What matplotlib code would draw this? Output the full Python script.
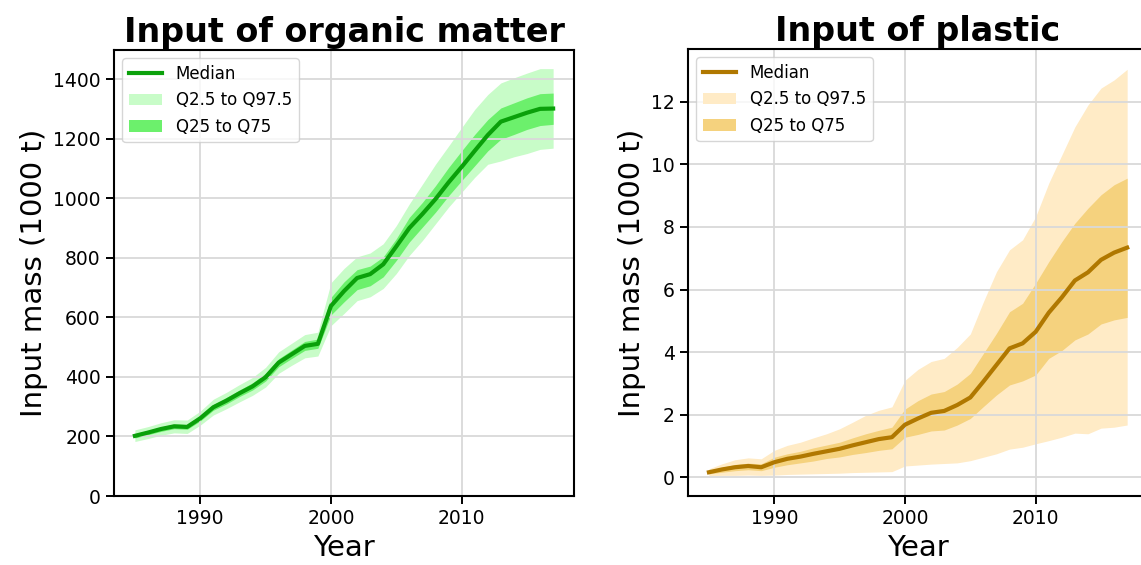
import matplotlib.pyplot as plt
from matplotlib.ticker import MultipleLocator

# Data
years = list(range(1985, 2018))

organic_median = [202, 213, 225, 234, 232, 261, 298, 320, 345, 368, 399, 448, 476, 504, 511,
                  638, 688, 732, 745, 778, 838, 900, 947, 997, 1053, 1105, 1159, 1212, 1257,
                  1272, 1287, 1300, 1301]
organic_q975 = [222, 233, 246, 256, 255, 285, 325, 348, 374, 398, 432, 484, 513, 542, 550,
                716, 764, 803, 816, 847, 908, 981, 1047, 1114, 1175, 1237, 1298, 1348, 1387,
                1404, 1420, 1435, 1435]
organic_q025 = [183, 193, 204, 212, 210, 238, 272, 293, 316, 338, 366, 412, 439, 464, 470,
                572, 613, 656, 669, 697, 747, 808, 858, 914, 970, 1020, 1070, 1114, 1125,
                1139, 1150, 1164, 1168]
organic_q75 = [209, 220, 232, 242, 240, 270, 308, 331, 356, 380, 412, 461, 490, 519, 527,
               667, 719, 760, 772, 803, 864, 936, 986, 1042, 1103, 1159, 1214, 1264, 1303,
               1320, 1337, 1351, 1353]
organic_q25 = [195, 206, 217, 226, 224, 252, 288, 309, 334, 356, 386, 434, 462, 489, 496,
               608, 652, 693, 706, 736, 791, 853, 903, 953, 1008, 1059, 1109, 1159, 1198,
               1214, 1231, 1244, 1248]

plastic_median = [0.16, 0.25, 0.32, 0.36, 0.32, 0.48, 0.59, 0.66, 0.75, 0.83, 0.91, 1.02, 1.12,
                  1.22, 1.28, 1.68, 1.88, 2.06, 2.12, 2.31, 2.55, 3.06, 3.59, 4.12, 4.28, 4.65,
                  5.26, 5.75, 6.29, 6.55, 6.95, 7.18, 7.34]
plastic_q975 = [0.27, 0.43, 0.56, 0.62, 0.59, 0.86, 1.02, 1.12, 1.26, 1.39, 1.55, 1.76, 1.98,
                2.14, 2.25, 3.10, 3.45, 3.70, 3.80, 4.15, 4.58, 5.61, 6.57, 7.27, 7.59, 8.33,
                9.40, 10.30, 11.20, 11.90, 12.44, 12.70, 13.04]
plastic_q025 = [0.05, 0.06, 0.06, 0.07, 0.06, 0.07, 0.09, 0.10, 0.11, 0.12, 0.13, 0.15, 0.16,
                0.17, 0.18, 0.36, 0.39, 0.42, 0.44, 0.46, 0.53, 0.64, 0.75, 0.90, 0.96, 1.07,
                1.17, 1.28, 1.41, 1.39, 1.57, 1.60, 1.67]
plastic_q75 = [0.21, 0.32, 0.41, 0.45, 0.43, 0.64, 0.75, 0.83, 0.94, 1.03, 1.12, 1.26, 1.39,
               1.50, 1.60, 2.18, 2.45, 2.66, 2.74, 2.98, 3.32, 3.96, 4.60, 5.29, 5.56, 6.20,
               6.89, 7.53, 8.12, 8.60, 9.03, 9.35, 9.56]
plastic_q25 = [0.11, 0.16, 0.21, 0.24, 0.21, 0.32, 0.40, 0.46, 0.52, 0.60, 0.65, 0.73, 0.79,
               0.86, 0.91, 1.28, 1.37, 1.48, 1.51, 1.67, 1.88, 2.26, 2.63, 2.95, 3.08, 3.27,
               3.80, 4.05, 4.39, 4.58, 4.90, 5.03, 5.11]

fig = plt.figure(figsize=(11.41, 5.65), dpi=100)
ax1 = fig.add_axes([0.0999, 0.1221, 0.4032, 0.7894])
ax2 = fig.add_axes([0.603, 0.1221, 0.4032, 0.7912])


def draw_panel(ax, title, med, lo95, hi95, lo50, hi50, c_line, c_light, c_dark):
    ax.fill_between(years, lo95, hi95, color=c_light, lw=0, label='Q2.5 to Q97.5')
    ax.fill_between(years, lo50, hi50, color=c_dark, lw=0, label='Q25 to Q75')
    ax.plot(years, med, color=c_line, lw=3, label='Median')
    ax.set_title(title, fontsize=24, fontweight='bold')
    ax.set_xlabel('Year', fontsize=21)
    ax.set_ylabel('Input mass (1000 t)', fontsize=21)
    ax.xaxis.set_major_locator(MultipleLocator(10))
    ax.grid(True, color='#d9d9d9', lw=1.3)
    ax.set_axisbelow('line')
    ax.tick_params(labelsize=13.5, length=6, width=1.4)
    for s in ax.spines.values():
        s.set_linewidth(1.5)
    h, l = ax.get_legend_handles_labels()
    ax.legend([h[2], h[0], h[1]], [l[2], l[0], l[1]], loc='upper left', fontsize=12)


draw_panel(ax1, 'Input of organic matter', organic_median, organic_q025, organic_q975,
           organic_q25, organic_q75, '#0aa00a', '#c8fcc8', '#6cf06c')
ax1.set_ylim(bottom=0)

draw_panel(ax2, 'Input of plastic', plastic_median, plastic_q025, plastic_q975,
           plastic_q25, plastic_q75, '#b07800', '#ffebc6', '#f5d27e')

fig.savefig('out.png', dpi=100)
